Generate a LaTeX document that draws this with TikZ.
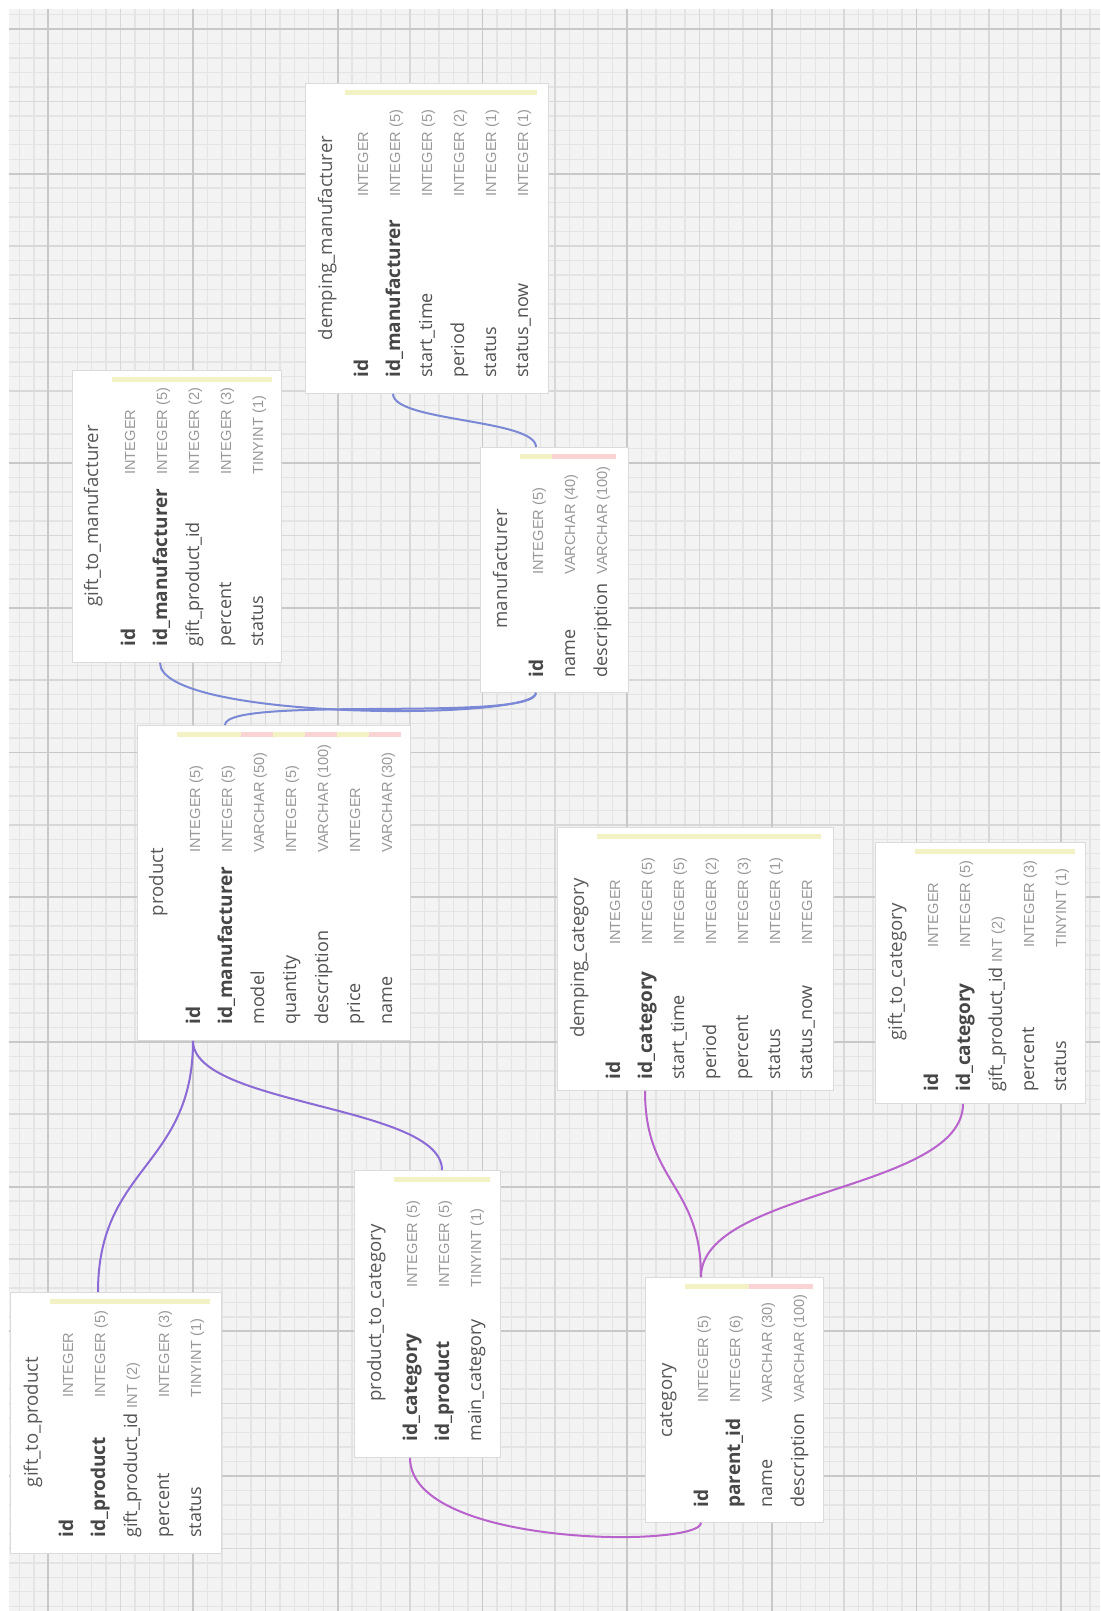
\documentclass[tikz,border=0pt]{standalone}
\usepackage{fontspec}
\setmainfont{Open Sans}
\newfontfamily\typefont{Liberation Sans}
\usepackage{xcolor}
\definecolor{gridbg}{HTML}{F3F3F3}
\definecolor{gridmin}{HTML}{E4E4E4}
\definecolor{gridmed}{HTML}{D8D8D8}
\definecolor{gridmaj}{HTML}{C8C8C8}
\definecolor{numbar}{HTML}{F2F2C4}
\definecolor{strbar}{HTML}{FAD4D4}
\definecolor{mfcol}{HTML}{7A88D6}
\definecolor{prcol}{HTML}{8C6AD6}
\definecolor{cacol}{HTML}{B862CC}

\begin{document}
\begin{tikzpicture}[x=0.5pt,y=-0.5pt]
  \tikzstyle{tbl}=[draw=black!14,fill=white,inner sep=0,anchor=north west]
  \tikzstyle{ttl}=[rotate=90,anchor=base,inner sep=0,text=black!65,font=\fontsize{9.3}{11}\selectfont]
  \tikzstyle{plainrow}=[rotate=90,anchor=base west,inner sep=0,text=black!68,font=\fontsize{9}{11}\selectfont]
  \tikzstyle{keyrow}=[plainrow,text=black!72,font=\fontsize{9.5}{11}\selectfont\bfseries]
  \tikzstyle{typ}=[rotate=90,anchor=base west,inner sep=0,text=black!40,font=\typefont\fontsize{7.3}{9}\selectfont]
  \tikzstyle{gridminor}=[gridmin,line width=0.7pt]
  \tikzstyle{gridmedium}=[gridmed,line width=0.8pt]
  \tikzstyle{gridmajor}=[gridmaj,line width=0.9pt]
  \tikzstyle{rel}=[line width=1pt]
  \useasboundingbox (0,0) rectangle (1100,1611);
  \fill[white] (0,0) rectangle (1100,1611);
  \fill[gridbg] (9,9) rectangle (1100,1611);
  % grid
  \foreach \k in {1,...,75} \draw[gridminor] ({4.9+14.47*\k},9) -- ({4.9+14.47*\k},1611);
  \foreach \k in {0,...,110} \draw[gridminor] (9,{14.53+14.47*\k}) -- (1100,{14.53+14.47*\k});
  \foreach \k in {0,...,6} \draw[gridmedium] ({120.65+144.7*\k},9) -- ({120.65+144.7*\k},1611);
  \foreach \k in {0,...,10} \draw[gridmedium] (9,{101.35+144.7*\k}) -- (1100,{101.35+144.7*\k});
  \foreach \k in {0,...,7} \draw[gridmajor] ({48.3+144.7*\k},9) -- ({48.3+144.7*\k},1611);
  \foreach \k in {0,...,10} \draw[gridmajor] (9,{29+144.7*\k}) -- (1100,{29+144.7*\k});

  % demping_manufacturer
  \node[tbl,minimum width=121.5pt,minimum height=155pt] (dm) at (305,83) {};
  \node[ttl] at (332,238) {demping\_manufacturer};
  \foreach \nm/\ty/\st/\bc [count=\i] in {id/INTEGER/keyrow/numbar,id\_manufacturer/INTEGER (5)/keyrow/numbar,start\_time/INTEGER (5)/plainrow/numbar,period/INTEGER (2)/plainrow/numbar,status/INTEGER (1)/plainrow/numbar,status\_now/INTEGER (1)/plainrow/numbar} {
    \coordinate (dm\i) at ({345+32*\i-16},83);
    \fill[\bc] ({345+32*\i-32},90) rectangle ({345+32*\i},95);
    \node[\st] at ({345+32*\i-9},378) {\nm};
    \node[typ] at ({345+32*\i-9},197) {\ty};
  }

  % gift_to_manufacturer
  \node[tbl,minimum width=104.5pt,minimum height=146pt] (gm) at (72,370) {};
  \node[ttl] at (98,516) {gift\_to\_manufacturer};
  \foreach \nm/\ty/\st/\bc [count=\i] in {id/INTEGER/keyrow/numbar,id\_manufacturer/INTEGER (5)/keyrow/numbar,gift\_product\_id/INTEGER (2)/plainrow/numbar,percent/INTEGER (3)/plainrow/numbar,status/TINYINT (1)/plainrow/numbar} {
    \coordinate (gm\i) at ({112+32*\i-16},370);
    \fill[\bc] ({112+32*\i-32},377) rectangle ({112+32*\i},382);
    \node[\st] at ({112+32*\i-9},647) {\nm};
    \node[typ] at ({112+32*\i-9},475) {\ty};
  }

  % manufacturer
  \node[tbl,minimum width=74pt,minimum height=122.5pt] (mf) at (480,447) {};
  \node[ttl] at (507,569) {manufacturer};
  \foreach \nm/\ty/\st/\bc [count=\i] in {id/INTEGER (5)/keyrow/numbar,name/VARCHAR (40)/plainrow/strbar,description/VARCHAR (100)/plainrow/strbar} {
    \coordinate (mf\i) at ({520+32*\i-16},447);
    \fill[\bc] ({520+32*\i-32},454) rectangle ({520+32*\i},459);
    \node[\st] at ({520+32*\i-9},678) {\nm};
    \node[typ] at ({520+32*\i-9},575) {\ty};
  }

  % product
  \node[tbl,minimum width=136.5pt,minimum height=157.5pt] (pr) at (137,725) {};
  \node[ttl] at (163,882) {product};
  \foreach \nm/\ty/\st/\bc [count=\i] in {id/INTEGER (5)/keyrow/numbar,id\_manufacturer/INTEGER (5)/keyrow/numbar,model/VARCHAR (50)/plainrow/strbar,quantity/INTEGER (5)/plainrow/numbar,description/VARCHAR (100)/plainrow/strbar,price/INTEGER/plainrow/numbar,name/VARCHAR (30)/plainrow/strbar} {
    \coordinate (pr\i) at ({177+32*\i-16},725);
    \fill[\bc] ({177+32*\i-32},732) rectangle ({177+32*\i},737);
    \node[\st] at ({177+32*\i-9},1025) {\nm};
    \node[typ] at ({177+32*\i-9},853) {\ty};
  }

  % gift_to_product
  \node[tbl,minimum width=105.5pt,minimum height=130.5pt] (gp) at (10,1292) {};
  \node[ttl] at (38,1422) {gift\_to\_product};
  \foreach \nm/\ty/\st/\bc [count=\i] in {id/INTEGER/keyrow/numbar,id\_product/INTEGER (5)/keyrow/numbar,gift\_product\_id//plainrow/numbar,percent/INTEGER (3)/plainrow/numbar,status/TINYINT (1)/plainrow/numbar} {
    \coordinate (gp\i) at ({50+32*\i-16},1292);
    \fill[\bc] ({50+32*\i-32},1299) rectangle ({50+32*\i},1304);
    \node[\st] (gpn\i) at ({50+32*\i-9},1538) {\nm};
    \node[typ] at ({50+32*\i-9},1398) {\ty};
  }
  \node[typ] at ([yshift=2pt]gpn3.base east) {INT (2)};

  % product_to_category
  \node[tbl,minimum width=73pt,minimum height=143.5pt] (pc) at (354,1170) {};
  \node[ttl] at (381,1313) {product\_to\_category};
  \foreach \nm/\ty/\st/\bc [count=\i] in {id\_category/INTEGER (5)/keyrow/numbar,id\_product/INTEGER (5)/keyrow/numbar,main\_category/TINYINT (1)/plainrow/numbar} {
    \coordinate (pc\i) at ({394+32*\i-16},1170);
    \fill[\bc] ({394+32*\i-32},1177) rectangle ({394+32*\i},1182);
    \node[\st] at ({394+32*\i-9},1442) {\nm};
    \node[typ] at ({394+32*\i-9},1288) {\ty};
  }

  % category
  \node[tbl,minimum width=89pt,minimum height=122.5pt] (ca) at (645,1277) {};
  \node[ttl] at (672,1400) {category};
  \foreach \nm/\ty/\st/\bc [count=\i] in {id/INTEGER (5)/keyrow/numbar,parent\_id/INTEGER (6)/keyrow/numbar,name/VARCHAR (30)/plainrow/strbar,description/VARCHAR (100)/plainrow/strbar} {
    \coordinate (ca\i) at ({685+32*\i-16},1277);
    \fill[\bc] ({685+32*\i-32},1284) rectangle ({685+32*\i},1289);
    \node[\st] at ({685+32*\i-9},1508) {\nm};
    \node[typ] at ({685+32*\i-9},1403) {\ty};
  }

  % demping_category
  \node[tbl,minimum width=138pt,minimum height=131.5pt] (dc) at (557,827) {};
  \node[ttl] at (584,958) {demping\_category};
  \foreach \nm/\ty/\st/\bc [count=\i] in {id/INTEGER/keyrow/numbar,id\_category/INTEGER (5)/keyrow/numbar,start\_time/INTEGER (5)/plainrow/numbar,period/INTEGER (2)/plainrow/numbar,percent/INTEGER (3)/plainrow/numbar,status/INTEGER (1)/plainrow/numbar,status\_now/INTEGER/plainrow/numbar} {
    \coordinate (dc\i) at ({597+32*\i-16},827);
    \fill[\bc] ({597+32*\i-32},834) rectangle ({597+32*\i},839);
    \node[\st] at ({597+32*\i-9},1080) {\nm};
    \node[typ] at ({597+32*\i-9},945) {\ty};
  }

  % gift_to_category
  \node[tbl,minimum width=105pt,minimum height=130.5pt] (gc) at (875,842) {};
  \node[ttl] at (902,972) {gift\_to\_category};
  \foreach \nm/\ty/\st/\bc [count=\i] in {id/INTEGER/keyrow/numbar,id\_category/INTEGER (5)/keyrow/numbar,gift\_product\_id//plainrow/numbar,percent/INTEGER (3)/plainrow/numbar,status/TINYINT (1)/plainrow/numbar} {
    \coordinate (gc\i) at ({915+32*\i-16},842);
    \fill[\bc] ({915+32*\i-32},849) rectangle ({915+32*\i},854);
    \node[\st] (gcn\i) at ({915+32*\i-9},1092) {\nm};
    \node[typ] at ({915+32*\i-9},948) {\ty};
  }
  \node[typ] at ([yshift=2pt]gcn3.base east) {INT (2)};

  % relations
  \draw[rel,mfcol] (dm2 |- dm.south) .. controls +(0,28) and +(0,-28) .. (mf1 |- mf.north);
  \draw[rel,mfcol] (gm2 |- gm.south) .. controls +(0,58) and +(0,28) .. (mf1 |- mf.south);
  \draw[rel,mfcol] (pr2 |- pr.north) .. controls +(0,-30) and +(0,30) .. (mf1 |- mf.south);
  \draw[rel,prcol] (gp2 |- gp.north) .. controls +(0,-126) and +(0,126) .. (pr1 |- pr.south);
  \draw[rel,prcol] (pc2 |- pc.north) .. controls +(0,-65) and +(0,65) .. (pr1 |- pr.south);
  \draw[rel,cacol] (pc1 |- pc.south) .. controls +(0,90) and +(0,25) .. (ca1 |- ca.south);
  \draw[rel,cacol] (dc2 |- dc.south) .. controls +(0,93) and +(0,-93) .. (ca1 |- ca.north);
  \draw[rel,cacol] (gc2 |- gc.south) .. controls +(0,87) and +(0,-87) .. (ca1 |- ca.north);
\end{tikzpicture}
\end{document}
